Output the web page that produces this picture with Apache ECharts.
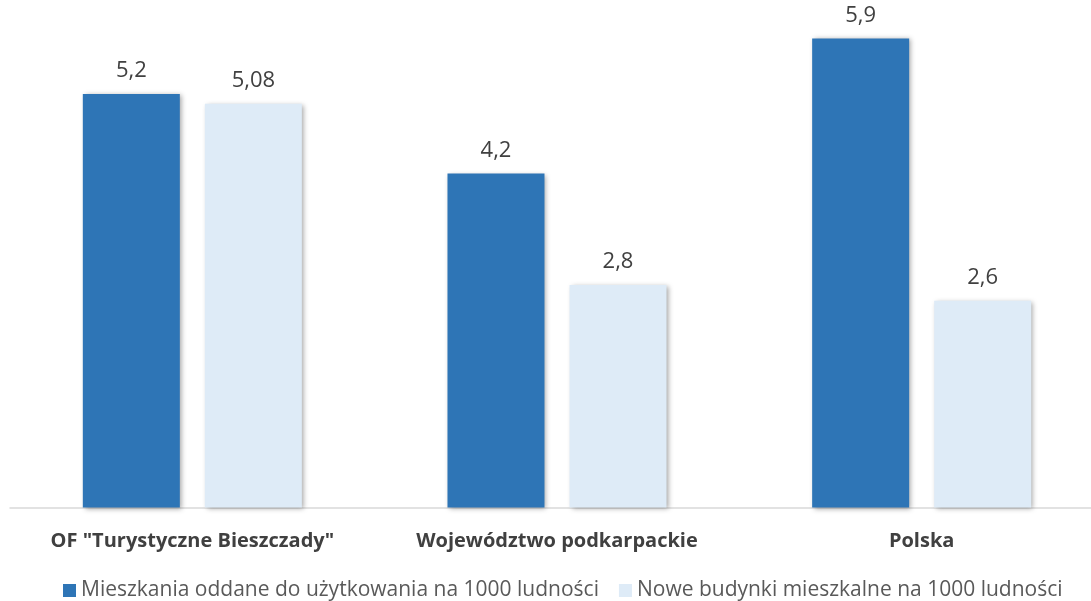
<!DOCTYPE html>
<html>
<head>
<meta charset="utf-8">
<script src="https://cdn.jsdelivr.net/npm/echarts@6/dist/echarts.min.js"></script>
<style>
  html, body { margin: 0; padding: 0; background: #fff; }
  #chart { width: 1091px; height: 601px; }
</style>
</head>
<body>
<div id="chart"></div>
<script>
var categories = ['OF "Turystyczne Bieszczady"', 'Województwo podkarpackie', 'Polska']
var seriesNames = [
  'Mieszkania oddane do użytkowania na 1000 ludności',
  'Nowe budynki mieszkalne na 1000 ludności'
]
var mieszkania = [5.2, 4.2, 5.9]
var budynki = [5.08, 2.8, 2.6]

var font = '"Open Sans", "DejaVu Sans", sans-serif'

function fmt(p) {
  return String(p.value).replace('.', ',')
}

var chart = echarts.init(document.getElementById('chart'))
chart.setOption({
  animation: false,
  grid: {
    left: 10,
    width: 1094,
    top: 30.5,
    bottom: 93.5,
    outerBoundsMode: 'none'
  },
  legend: {
    top: 575,
    left: 58,
    itemWidth: 13,
    itemHeight: 13,
    itemGap: 20,
    icon: 'rect',
    textStyle: { fontFamily: font, fontSize: 21, color: '#595959' },
    data: seriesNames
  },
  xAxis: {
    type: 'category',
    data: categories,
    axisLine: { lineStyle: { color: '#d9d9d9', width: 1.5 } },
    axisTick: { show: false },
    axisLabel: {
      interval: 0,
      hideOverlap: false,
      fontFamily: font,
      fontSize: 20,
      fontWeight: 'bold',
      color: '#404040',
      margin: 24
    }
  },
  yAxis: {
    type: 'value',
    min: 0,
    max: 6,
    show: false,
    splitLine: { show: false }
  },
  series: [
    {
      name: seriesNames[0],
      type: 'bar',
      data: mieszkania,
      barWidth: 97,
      barGap: '25.8%',
      itemStyle: {
        color: '#2e75b6',
        shadowBlur: 5,
        shadowColor: 'rgba(0,0,0,0.35)',
        shadowOffsetX: 2,
        shadowOffsetY: 1
      },
      label: {
        show: true,
        position: 'top',
        distance: 12,
        formatter: fmt,
        fontFamily: font,
        fontSize: 22,
        color: '#404040'
      }
    },
    {
      name: seriesNames[1],
      type: 'bar',
      data: budynki,
      barWidth: 97,
      barGap: '25.8%',
      itemStyle: {
        color: '#deebf7',
        shadowBlur: 5,
        shadowColor: 'rgba(0,0,0,0.35)',
        shadowOffsetX: 2,
        shadowOffsetY: 1
      },
      label: {
        show: true,
        position: 'top',
        distance: 12,
        formatter: fmt,
        fontFamily: font,
        fontSize: 22,
        color: '#404040'
      }
    }
  ]
})
</script>
</body>
</html>
